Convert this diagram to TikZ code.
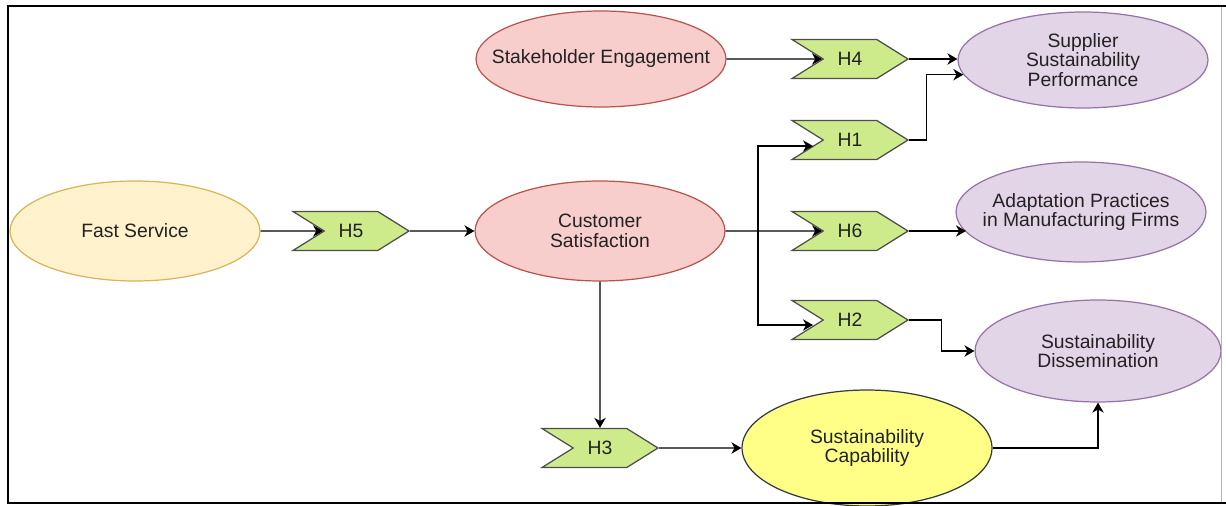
\documentclass[tikz,border=0pt]{standalone}
\usepackage{fontspec}
\setmainfont{Liberation Sans}
\usetikzlibrary{shapes.geometric,shapes.symbols,arrows.meta}

\definecolor{redfill}{HTML}{F8CECC}
\definecolor{redline}{HTML}{B85450}
\definecolor{yelfill}{HTML}{FFF2CC}
\definecolor{yelline}{HTML}{D6B656}
\definecolor{purfill}{HTML}{E1D5E7}
\definecolor{purline}{HTML}{9673A6}
\definecolor{capfill}{HTML}{FFFF88}
\definecolor{capline}{HTML}{36393D}
\definecolor{hypfill}{HTML}{CDEB8B}
\definecolor{hypline}{HTML}{4D4D4D}
\definecolor{txt}{HTML}{222222}

\tikzset{
    construct/.style={ellipse, draw, line width=0.7pt, minimum width=5cm, minimum height=2cm,
        inner xsep=-0.6cm, inner ysep=0pt, align=center, text=txt, font=\fontsize{11}{11}\selectfont},
    hyp/.style={signal, signal from=west, signal to=east, signal pointer angle=64,
        draw=hypline, fill=hypfill, line width=0.7pt, minimum width=2.32cm, minimum height=0.78cm,
        inner sep=0pt, text=txt, font=\fontsize{11}{11}\selectfont},
    link/.style={-{Stealth[length=5.7pt,width=6.5pt,inset=1.8pt]}, line width=0.7pt}
}

\begin{document}
\begin{tikzpicture}[x=0.02cm,y=-0.02cm]
        \useasboundingbox (0,0) rectangle (1226,506);

        %%%%%%%%% Costrutti %%%%%%%%%
        \node[construct, fill=yelfill, draw=yelline] (fs) at (135,231) {Fast Service};
        \node[construct, fill=redfill, draw=redline, minimum height=1.92cm] (se) at (601,59) {Stakeholder Engagement};
        \node[construct, fill=redfill, draw=redline] (cs) at (600,231) {Customer\\Satisfaction};
        \node[construct, fill=purfill, draw=purline, minimum height=1.92cm] (ssp) at (1083,60) {Supplier\\Sustainability\\Performance};
        \node[construct, fill=purfill, draw=purline] (ap) at (1081,212) {Adaptation Practices\\in Manufacturing Firms};
        \node[construct, fill=purfill, draw=purline, minimum width=4.92cm, minimum height=2.04cm] (sd) at (1098,351) {Sustainability\\Dissemination};
        \node[construct, fill=capfill, draw=capline, minimum height=2.32cm] (cap) at (867,448) {Sustainability\\Capability};

        %%%%%%%%% Ipotesi %%%%%%%%%
        \node[hyp] (h4) at (850,59) {H4};
        \node[hyp] (h1) at (850,140) {H1};
        \node[hyp] (h6) at (850,231) {H6};
        \node[hyp] (h2) at (850,320) {H2};
        \node[hyp] (h5) at (351,231) {H5};
        \node[hyp] (h3) at (600,448) {H3};

        %%%%%%%%% Frecce %%%%%%%%%
        \coordinate (fork) at (758,231);
        \draw[link] (fs) -- (h5);
        \draw[link] (h5) -- (cs);
        \draw[link] (se) -- (h4);
        \draw[link] (h4.east) -- (h4.east -| ssp.west);
        \draw[link] (h1.east) -- ++(17,0) |- (ssp.187);
        \draw[link] (cs) -- (h6);
        \draw[link] (fork) |- ([shift={(-37,6)}]h1.center);
        \draw[link] (fork) |- ([shift={(-37,5)}]h2.center);
        \draw[link] (h6.east) -- (h6.east -| ap.190);
        \draw[link] (h2.east) -- ++(32,0) |- (sd.west);
        \draw[link] (cs) -- (h3);
        \draw[link] (h3) -- (cap);
        \draw[link] (cap.east) -| (sd.south);

        %%%%%%%%% Cornice %%%%%%%%%
        \draw[gray!60, line width=0.5pt] (1221,6) -- (1221,503);
        \draw[line width=1.1pt] (1226,6) -- (8,6) -- (8,503) -- (1226,503);
\end{tikzpicture}
\end{document}
